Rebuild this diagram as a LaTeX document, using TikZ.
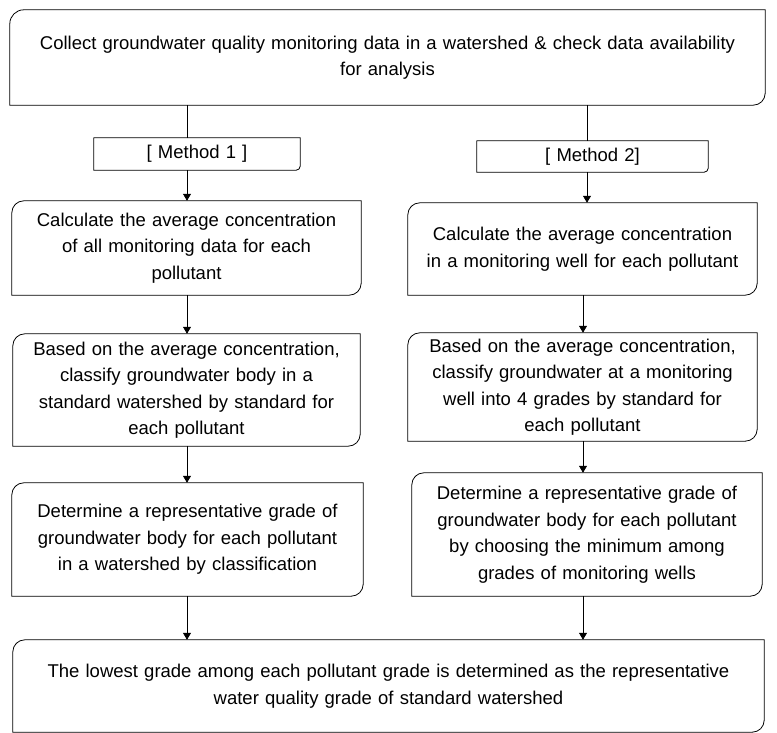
\documentclass[tikz,border=0pt]{standalone}
\usepackage{fontspec}
\setmainfont{Liberation Sans}
\usetikzlibrary{arrows.meta}
\tikzset{stepbox/.style={inner sep=0pt,align=center,font=\fontsize{18.5}{26.5}\selectfont},
flowline/.style={line width=0.8pt},
flowarrow/.style={-{Triangle[length=7pt,width=8pt]},line width=0.8pt}}
% frame with rounded top-left and bottom-right corners
\newcommand\stepframe[3]{\draw[flowline] (#1.south west) -- ([yshift=-#2]#1.north west) arc(180:90:#2) -- (#1.north east) -- ([yshift=#3]#1.south east) arc(0:-90:#3) -- cycle;}

\begin{document}
\begin{tikzpicture}[x=1pt,y=1pt]
\useasboundingbox (0,0) rectangle (777,-733);
\coordinate (leftcol) at (187,0);
\coordinate (methcol) at (587,0);
\coordinate (rightcol) at (583,0);

\node[stepbox,minimum width=755pt,minimum height=95pt,text width=751pt] (collect) at (387.5,-57.5)
 {Collect groundwater quality monitoring data in a watershed \& check data availability\\for analysis};
\node[stepbox,minimum width=206pt,minimum height=32pt,text width=200pt] (meth1) at (197,-154) {[ Method 1 ]};
\node[stepbox,minimum width=231pt,minimum height=31pt,text width=225pt] (meth2) at (592.5,-156.5) {[ Method 2]};

\node[stepbox,minimum width=349pt,minimum height=94pt,text width=345pt] (avg1) at (186.5,-248)
 {Calculate the average concentration\\of all monitoring data for each\\pollutant};
\node[stepbox,minimum width=349pt,minimum height=92pt,text width=345pt] (avg2) at (582.5,-249)
 {Calculate the average concentration\\in a monitoring well for each pollutant};

\node[stepbox,minimum width=347pt,minimum height=112pt,text width=343pt] (class1) at (186.5,-390)
 {Based on the average concentration,\\classify groundwater body in a\\standard watershed by standard for\\each pollutant};
\node[stepbox,minimum width=349pt,minimum height=108pt,text width=345pt] (class2) at (582.5,-387)
 {Based on the average concentration,\\classify groundwater at a monitoring\\well into 4 grades by standard for\\each pollutant};

\node[stepbox,minimum width=351pt,minimum height=113pt,text width=347pt] (grade1) at (187.5,-539.5)
 {Determine a representative grade of\\groundwater body for each pollutant\\in a watershed by classification};
\node[stepbox,minimum width=350pt,minimum height=123pt,text width=346pt] (grade2) at (587,-534.5)
 {Determine a representative grade of\\groundwater body for each pollutant\\by choosing the minimum among\\grades of monitoring wells};

\node[stepbox,minimum width=751pt,minimum height=92pt,text width=747pt] (lowest) at (388.5,-686)
 {The lowest grade among each pollutant grade is determined as the representative\\water quality grade of standard watershed};

\stepframe{collect}{14pt}{12pt}
\stepframe{meth1}{0.01pt}{4pt}
\stepframe{meth2}{0.01pt}{4pt}
\stepframe{avg1}{12pt}{12pt}
\stepframe{avg2}{12pt}{12pt}
\stepframe{class1}{12pt}{12pt}
\stepframe{class2}{12pt}{12pt}
\stepframe{grade1}{12pt}{12pt}
\stepframe{grade2}{12pt}{12pt}
\stepframe{lowest}{12pt}{12pt}

\draw[flowline] (collect.south -| leftcol) -- (meth1.north -| leftcol);
\draw[flowline] (collect.south -| methcol) -- (meth2.north -| methcol);
\draw[flowarrow] (meth1.south -| leftcol) -- (avg1.north -| leftcol);
\draw[flowarrow] (meth2.south -| methcol) -- (avg2.north -| methcol);
\draw[flowarrow] (avg1.south -| leftcol) -- (class1.north -| leftcol);
\draw[flowarrow] (avg2.south -| rightcol) -- (class2.north -| rightcol);
\draw[flowarrow] (class1.south -| leftcol) -- (grade1.north -| leftcol);
\draw[flowarrow] (class2.south -| rightcol) -- (grade2.north -| rightcol);
\draw[flowarrow] (grade1.south -| leftcol) -- (lowest.north -| leftcol);
\draw[flowarrow] (grade2.south -| rightcol) -- (lowest.north -| rightcol);
\end{tikzpicture}
\end{document}
